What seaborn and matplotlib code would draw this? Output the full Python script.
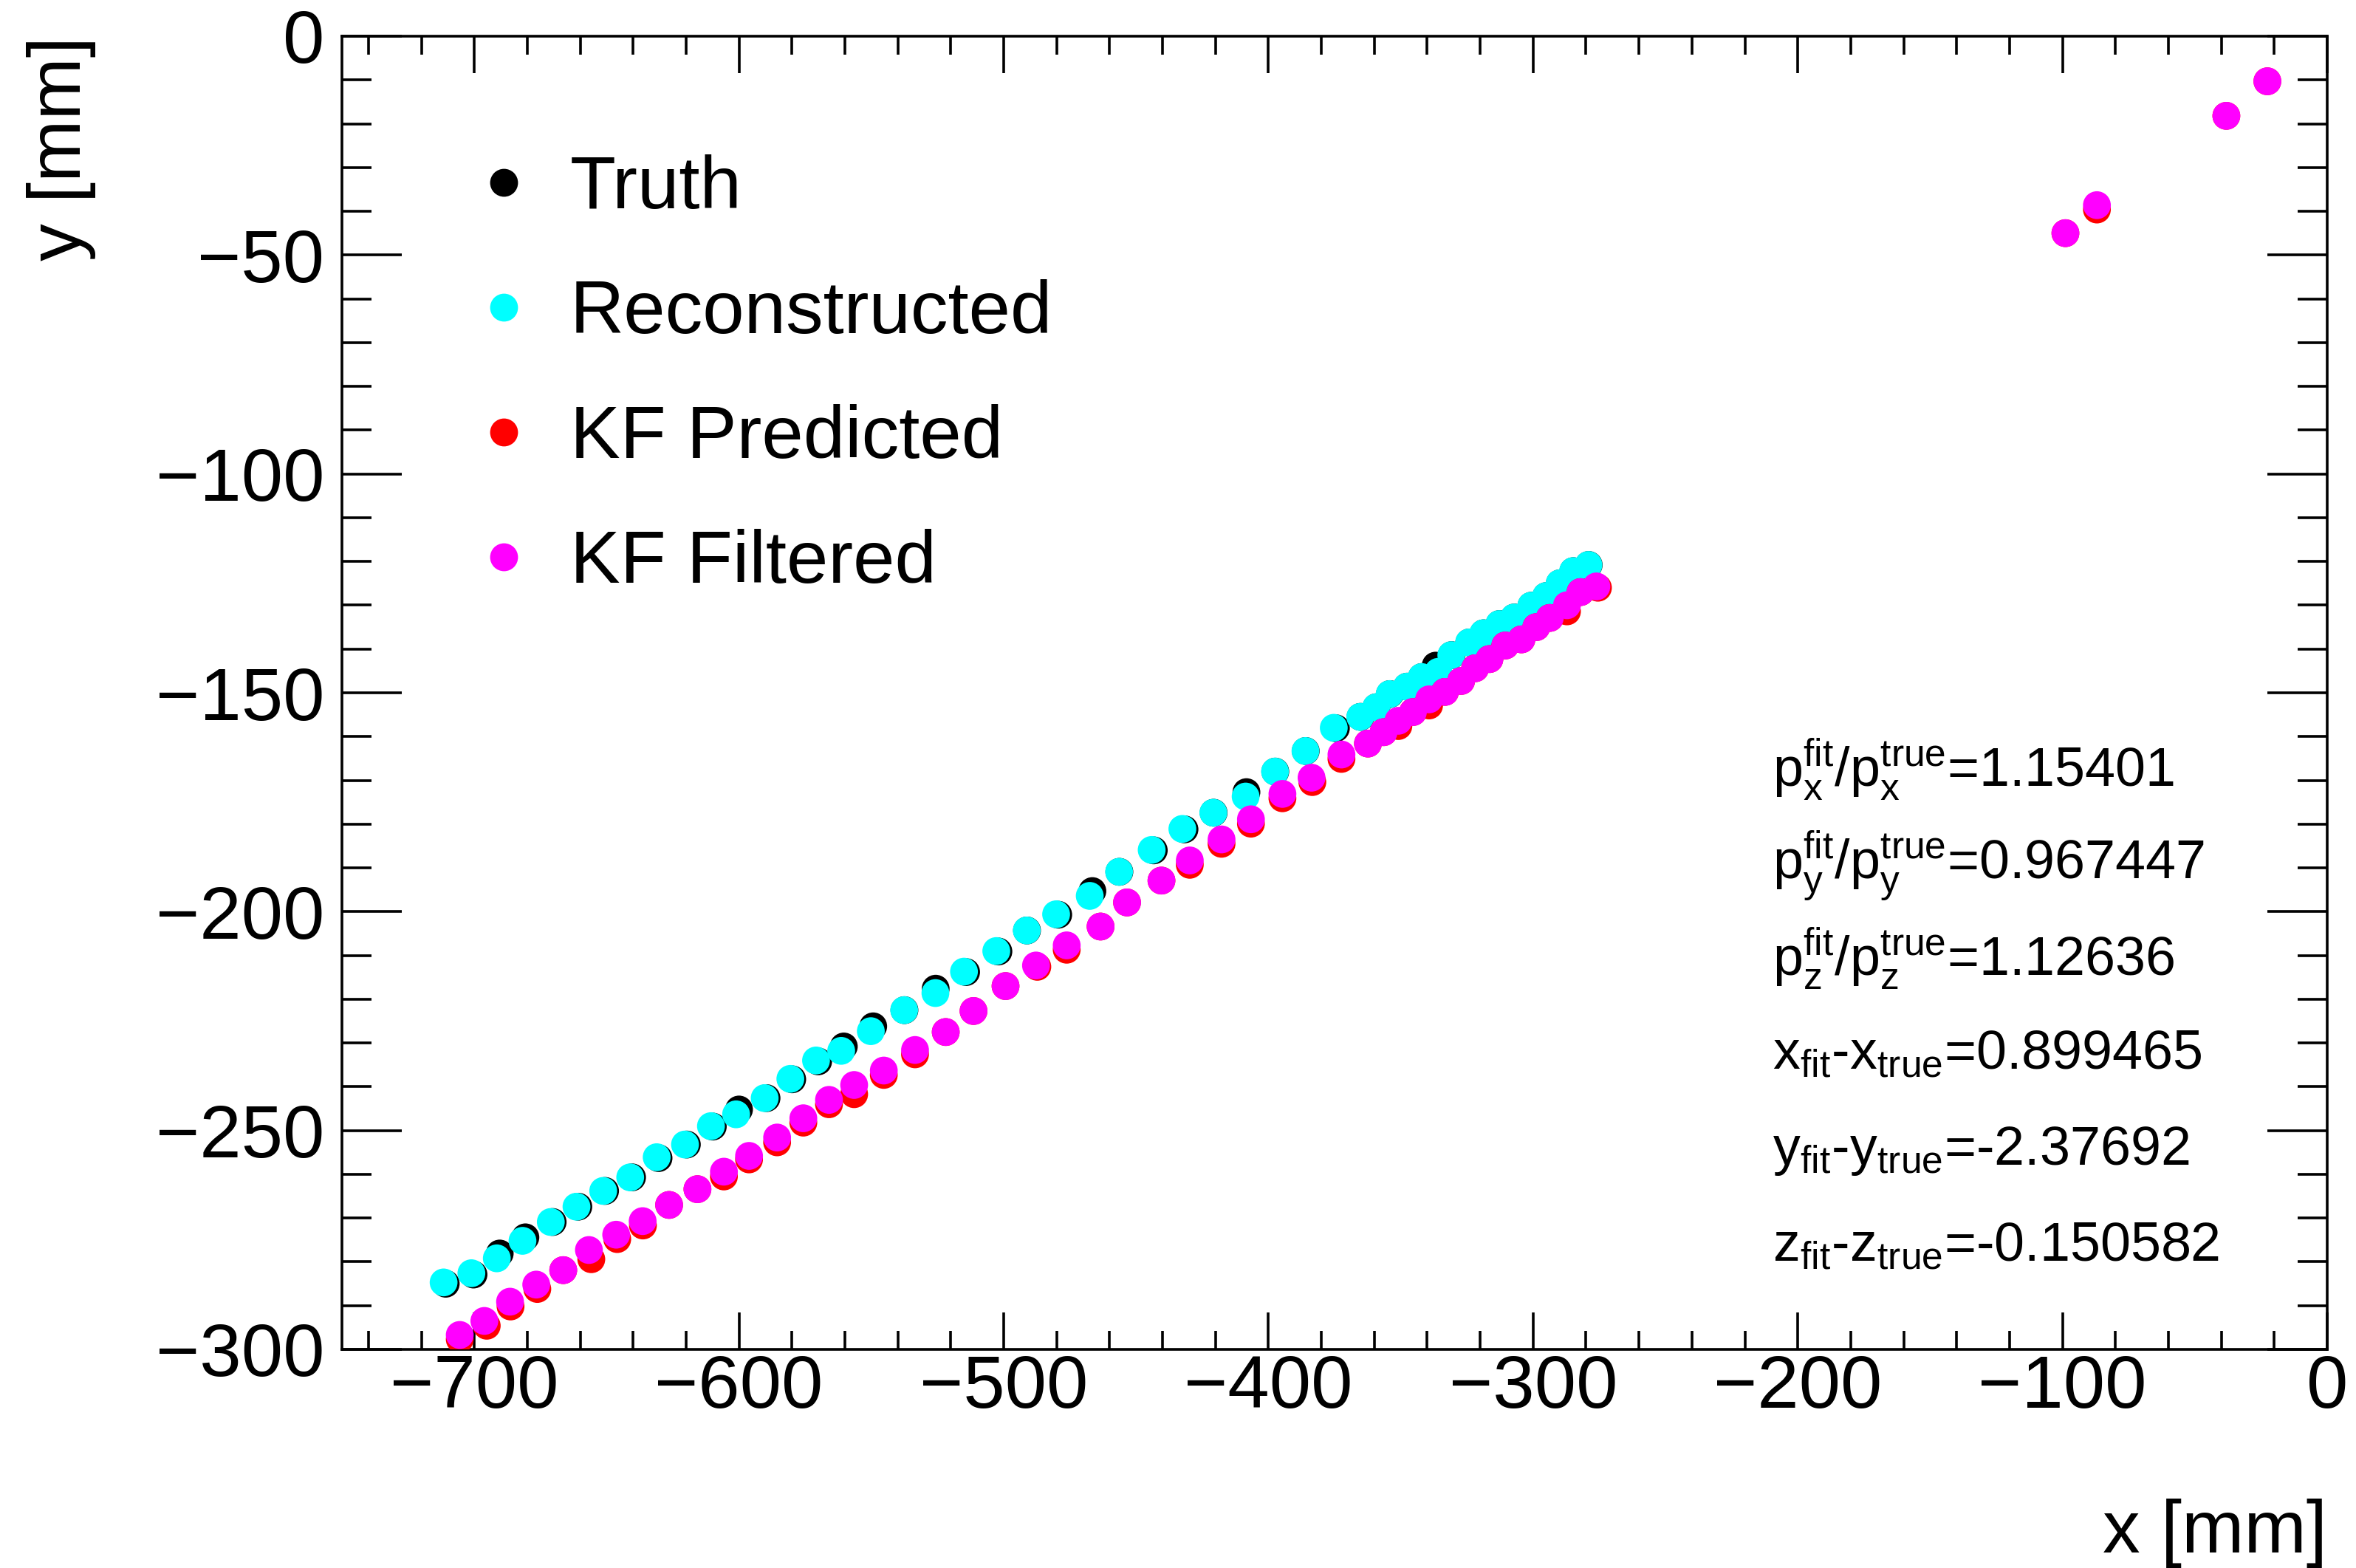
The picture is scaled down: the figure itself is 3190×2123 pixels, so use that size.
import matplotlib
matplotlib.use("Agg")
import matplotlib.pyplot as plt
from matplotlib.lines import Line2D
from matplotlib.ticker import MultipleLocator
import pandas as pd
import seaborn as sns

# ---------------- data (mm) ----------------
truth_x = [-710.8, -700.3, -690.4, -680.7, -670.4, -660.7, -650.6, -640.4, -630.4, -619.7,
           -609.9, -600.0, -589.6, -579.9, -570.1, -560.4, -549.3, -537.5, -525.7, -514.2,
           -502.0, -491.2, -479.4, -466.5, -456.3, -443.3, -431.7, -420.7, -408.3, -397.4,
           -385.9, -374.5, -365.2, -359.2, -354.1, -347.6, -342.0, -336.8, -330.8, -324.1,
           -318.7, -312.7, -307.1, -300.6, -295.0, -289.9, -284.8, -279.0]
truth_y = [-285.0, -282.9, -278.1, -274.4, -270.9, -267.4, -263.8, -260.7, -256.3, -253.2,
           -249.1, -245.2, -242.6, -238.3, -234.2, -230.8, -226.2, -222.5, -217.6, -213.8,
           -209.1, -204.3, -200.7, -195.3, -190.9, -186.0, -181.2, -177.4, -172.7, -168.0,
           -163.3, -158.1, -155.5, -153.3, -150.3, -148.6, -146.4, -143.8, -141.4, -138.5,
           -136.4, -134.3, -132.8, -130.1, -127.9, -125.0, -122.2, -120.8]

reco_x = [-711.6, -701.1, -691.5, -681.8, -671.1, -661.4, -651.3, -641.1, -631.1, -620.4,
          -610.6, -601.1, -590.3, -580.6, -570.9, -561.4, -550.2, -537.6, -525.8, -515.0,
          -502.8, -491.3, -480.2, -467.5, -456.4, -444.1, -432.5, -420.8, -408.6, -397.5,
          -386.0, -375.3, -365.3, -359.3, -354.2, -347.7, -342.1, -335.8, -330.9, -324.2,
          -318.8, -312.8, -307.2, -300.7, -295.1, -290.0, -284.9, -279.1]
reco_y = [-284.7, -282.6, -279.2, -275.2, -270.9, -267.4, -263.8, -260.7, -256.1, -253.2,
          -249.0, -246.3, -242.6, -238.2, -234.0, -231.8, -227.3, -222.5, -218.6, -213.7,
          -209.0, -204.3, -200.6, -196.4, -190.9, -185.9, -181.1, -177.4, -173.7, -168.0,
          -163.3, -158.0, -155.5, -153.3, -150.3, -148.6, -146.4, -145.2, -141.4, -138.5,
          -136.4, -134.3, -132.8, -130.1, -127.9, -125.0, -122.2, -120.8]

pred_x = [-705.5, -695.3, -686.3, -676.2, -666.4, -655.8, -646.0, -636.3, -626.4, -615.7,
          -605.7, -596.2, -585.6, -575.7, -566.0, -556.5, -545.3, -533.5, -521.9, -511.4,
          -499.3, -487.3, -476.2, -463.4, -453.4, -440.4, -429.7, -417.7, -406.6, -394.7,
          -383.4, -372.4, -362.4, -356.5, -350.9, -345.4, -339.3, -333.3, -327.2, -321.9,
          -316.5, -310.5, -304.4, -298.8, -293.7, -287.2, -282.1, -275.5,
          -98.9, -87.0, -38.1, -22.6]
pred_y = [-297.7, -294.6, -290.2, -286.2, -281.9, -279.4, -274.8, -271.7, -267.0, -263.4,
          -260.5, -256.6, -252.7, -248.2, -244.0, -241.7, -237.3, -232.6, -227.5, -222.7,
          -217.0, -212.6, -208.7, -203.4, -197.9, -192.9, -189.3, -184.5, -179.9, -174.1,
          -170.4, -165.1, -161.6, -159.0, -157.6, -154.4, -152.9, -149.8, -147.3, -144.4,
          -142.3, -139.2, -137.8, -135.0, -132.9, -131.4, -127.0, -126.0,
          -45.0, -39.6, -18.2, -10.3]

filt_x = [-705.5, -696.2, -686.5, -676.6, -666.4, -656.7, -646.4, -636.4, -626.4, -615.7,
          -605.7, -596.2, -585.6, -575.7, -566.0, -556.5, -545.3, -533.5, -521.9, -511.4,
          -499.3, -487.8, -476.2, -463.4, -453.4, -440.4, -429.7, -417.7, -406.6, -394.7,
          -383.7, -372.4, -362.4, -356.5, -350.9, -345.4, -339.3, -333.3, -327.2, -321.9,
          -316.5, -310.5, -304.4, -298.8, -293.7, -287.2, -282.1, -276.1,
          -98.9, -87.0, -38.1, -22.6]
filt_y = [-296.7, -293.5, -289.1, -285.2, -281.9, -277.3, -273.8, -270.7, -267.0, -263.4,
          -259.4, -255.8, -251.6, -247.2, -243.0, -239.6, -236.3, -231.6, -227.5, -222.7,
          -217.0, -212.3, -207.7, -203.4, -197.9, -192.9, -188.3, -183.5, -178.9, -173.1,
          -169.4, -164.1, -161.6, -159.0, -156.4, -154.4, -151.5, -149.8, -147.3, -144.4,
          -142.3, -139.2, -137.8, -135.0, -132.9, -130.0, -127.0, -125.7,
          -45.0, -38.6, -18.2, -10.3]

series_names = ["Truth", "Reconstructed", "KF Predicted", "KF Filtered"]
series_colors = ["#000000", "#00FFFF", "#FF0000", "#FF00FF"]

fit_lines = [
    r"$\mathrm{p_{x}^{fit}/p_{x}^{true}}$=1.15401",
    r"$\mathrm{p_{y}^{fit}/p_{y}^{true}}$=0.967447",
    r"$\mathrm{p_{z}^{fit}/p_{z}^{true}}$=1.12636",
    r"$\mathrm{x_{fit}}$-$\mathrm{x_{true}}$=0.899465",
    r"$\mathrm{y_{fit}}$-$\mathrm{y_{true}}$=-2.37692",
    r"$\mathrm{z_{fit}}$-$\mathrm{z_{true}}$=-0.150582",
]

# ---------------- style ----------------
sns.set_style("ticks")
plt.rcParams["font.family"] = ["Liberation Sans", "DejaVu Sans"]
plt.rcParams["mathtext.fontset"] = "custom"
plt.rcParams["mathtext.rm"] = "Liberation Sans"
plt.rcParams["mathtext.it"] = "Liberation Sans"
plt.rcParams["axes.linewidth"] = 2.6
for key in ["text.color", "axes.labelcolor", "xtick.color", "ytick.color",
            "axes.edgecolor", "xtick.labelcolor", "ytick.labelcolor"]:
    plt.rcParams[key] = "black"

W, H = 3190, 2123
fig = plt.figure(figsize=(W / 100, H / 100), dpi=100)
L, R, T, B = 463, 3151, 49, 1827
ax = fig.add_axes([L / W, 1 - B / H, (R - L) / W, (B - T) / H])

frames = []
for name, xs, ys in zip(series_names,
                        [truth_x, reco_x, pred_x, filt_x],
                        [truth_y, reco_y, pred_y, filt_y]):
    frames.append(pd.DataFrame({"x": xs, "y": ys, "series": name}))
df = pd.concat(frames, ignore_index=True)

sns.scatterplot(data=df, x="x", y="y", hue="series", hue_order=series_names,
                palette=dict(zip(series_names, series_colors)),
                s=735, linewidth=0, edgecolor="none", legend=False, ax=ax, zorder=3)

ax.set_xlim(-750, 0)
ax.set_ylim(-300, 0)
ax.xaxis.set_major_locator(MultipleLocator(100))
ax.xaxis.set_minor_locator(MultipleLocator(20))
ax.yaxis.set_major_locator(MultipleLocator(50))
ax.yaxis.set_minor_locator(MultipleLocator(10))
ax.tick_params(axis="x", which="major", direction="in", length=36, width=2.6,
               top=True, bottom=True, labelsize=73, pad=4, colors="black")
ax.tick_params(axis="x", which="minor", direction="in", length=18, width=2.6,
               top=True, bottom=True, colors="black")
ax.tick_params(axis="y", which="major", direction="in", length=58, width=2.6,
               left=True, right=True, labelsize=73, pad=17, colors="black")
ax.tick_params(axis="y", which="minor", direction="in", length=29, width=2.6,
               left=True, right=True, colors="black")
for sp in ax.spines.values():
    sp.set_visible(True)
    sp.set_linewidth(2.6)
    sp.set_color("black")

ax.set_xlabel("x [mm]", loc="right", fontsize=73, labelpad=74, color="black")
ax.set_ylabel("y [mm]", loc="top", fontsize=73, labelpad=58, color="black")

handles = [Line2D([], [], marker="o", linestyle="none", markersize=27.2,
                  markerfacecolor=c, markeredgewidth=0) for c in series_colors]
leg = ax.legend(handles, series_names, loc="upper left", bbox_to_anchor=(0.0664, 0.910),
                frameon=False, fontsize=73, borderaxespad=0, borderpad=0,
                handlelength=0.8, handletextpad=0.485, labelspacing=0.74)
for t in leg.get_texts():
    t.set_color("black")

baselines = [1064, 1190, 1320, 1447, 1577, 1707]
for txt, yb in zip(fit_lines, baselines):
    fig.text(2400 / W, 1 - yb / H, txt, fontsize=53, ha="left", va="baseline",
             color="black")

fig.savefig("out.png", dpi=100)
